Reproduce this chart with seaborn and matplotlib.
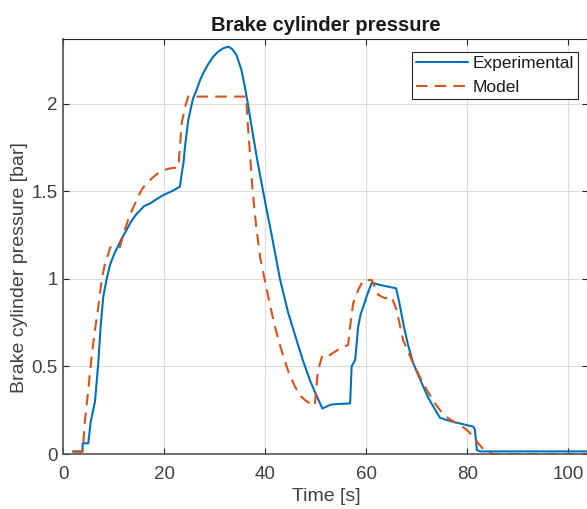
import numpy as np
import pandas as pd
import matplotlib
matplotlib.use("Agg")
import matplotlib.pyplot as plt
from matplotlib.ticker import FuncFormatter
import seaborn as sns

# Measured brake cylinder pressure
exp_time = [1.9, 3.8, 3.85, 4.95, 5.43, 6.28, 6.93, 7.4, 7.93, 8.6, 9.25, 10.2, 10.57,
            11.5, 12.55, 13.5, 14.5, 15.2, 16.0, 17.2, 18.5, 19.8, 21.5, 23.1, 23.45,
            23.8, 24.1, 24.75, 25.7, 26.4, 27.1, 27.7, 28.7, 29.7, 30.7, 31.7, 32.7,
            33.5, 34.3, 35.3, 36.0, 36.6, 37.4, 38.4, 39.5, 40.3, 41.2, 42.9, 44.5,
            46.2, 47.5, 48.85, 50.2, 51.3, 52.8, 53.5, 56.8, 57.1, 57.8, 58.0, 58.4,
            58.9, 59.4, 60.2, 61.1, 62.7, 65.9, 66.5, 67.5, 68.3, 69.3, 70.6, 71.3,
            72.3, 73.3, 74.0, 74.6, 75.8, 77.2, 79.2, 81.2, 81.5, 81.9, 82.5, 104.5]
exp_pressure = [0.015, 0.015, 0.061, 0.061, 0.184, 0.30, 0.52, 0.73, 0.90, 1.00, 1.08,
                1.15, 1.17, 1.225, 1.28, 1.33, 1.37, 1.39, 1.415, 1.43, 1.455, 1.478,
                1.50, 1.526, 1.60, 1.66, 1.754, 1.906, 2.03, 2.078, 2.135, 2.173,
                2.225, 2.268, 2.297, 2.316, 2.325, 2.31, 2.277, 2.19, 2.09, 1.99, 1.85,
                1.68, 1.51, 1.39, 1.26, 1.00, 0.81, 0.65, 0.53, 0.42, 0.33, 0.26, 0.28,
                0.284, 0.289, 0.50, 0.537, 0.60, 0.727, 0.80, 0.84, 0.91, 0.978, 0.965,
                0.946, 0.87, 0.72, 0.62, 0.518, 0.43, 0.384, 0.32, 0.27, 0.235, 0.207,
                0.195, 0.184, 0.17, 0.156, 0.14, 0.023, 0.015, 0.015]

# Simulated brake cylinder pressure
mod_time = [1.9, 3.8, 3.96, 4.3, 4.95, 5.6, 6.28, 6.93, 7.6, 8.26, 8.9, 9.3, 11.2, 12.2,
            13.0, 13.9, 14.7, 15.5, 16.3, 17.2, 18.2, 19.15, 20.1, 21.1, 22.8, 23.1,
            23.45, 24.1, 24.75, 36.2, 36.5, 37.0, 37.5, 38.2, 39.0, 39.9, 40.8, 41.6,
            42.6, 43.6, 44.7, 45.9, 47.0, 48.2, 49.8, 50.4, 51.3, 52.8, 55.1, 56.4,
            56.8, 57.4, 58.4, 59.4, 61.1, 62.4, 63.7, 65.0, 66.0, 67.3, 69.0, 70.6,
            72.0, 73.6, 75.3, 77.0, 78.6, 80.0, 81.2, 82.2, 83.2, 85.1, 104.5]
mod_pressure = [0.013, 0.013, 0.06, 0.194, 0.365, 0.555, 0.708, 0.84, 0.993, 1.088,
                1.14, 1.18, 1.18, 1.28, 1.35, 1.41, 1.46, 1.507, 1.54, 1.564, 1.59,
                1.61, 1.622, 1.63, 1.636, 1.754, 1.887, 1.98, 2.04, 2.04, 1.90, 1.70,
                1.50, 1.30, 1.12, 0.993, 0.87, 0.765, 0.65, 0.555, 0.46, 0.384, 0.33,
                0.30, 0.276, 0.47, 0.565, 0.565, 0.609, 0.622, 0.727, 0.86, 0.936,
                0.993, 0.993, 0.908, 0.889, 0.898, 0.822, 0.65, 0.537, 0.44, 0.365,
                0.29, 0.223, 0.19, 0.166, 0.135, 0.099, 0.06, 0.027, 0.0, 0.0]

x_ticks = [0, 20, 40, 60, 80, 100]
y_ticks = [0, 0.5, 1, 1.5, 2]

exp_df = pd.DataFrame({"time": exp_time, "pressure": exp_pressure})
mod_df = pd.DataFrame({"time": mod_time, "pressure": mod_pressure})

sns.set_theme(style="whitegrid")
plt.rcParams["font.family"] = ["Liberation Sans", "DejaVu Sans"]

dark = "#262626"
fig = plt.figure(figsize=(5.87, 5.09), dpi=100)
ax = fig.add_axes([0.1078, 0.108, 0.8947, 0.8148])

sns.lineplot(data=exp_df, x="time", y="pressure", ax=ax, color="#0072BD",
             linewidth=1.5, label="Experimental", sort=False)
sns.lineplot(data=mod_df, x="time", y="pressure", ax=ax, color="#D95319",
             linewidth=1.5, linestyle=(0, (5.5, 3.5)), label="Model", sort=False)

ax.set_xlim(0, 104)
ax.set_ylim(0, 2.367)
ax.set_xticks(x_ticks)
ax.set_yticks(y_ticks)
ax.yaxis.set_major_formatter(FuncFormatter(lambda v, p: f"{v:g}"))

ax.set_facecolor("white")
ax.grid(True, color="#dcdcdc", linewidth=0.8)
for side in ["left", "right", "top", "bottom"]:
    ax.spines[side].set_visible(True)
    ax.spines[side].set_color(dark)
    ax.spines[side].set_linewidth(0.8)
ax.spines["bottom"].set_color("#555555")
ax.spines["bottom"].set_linewidth(1.2)
ax.spines["left"].set_color("#555555")
ax.spines["left"].set_linewidth(1.2)

ax.tick_params(axis="both", which="major", direction="in", length=4, width=0.8,
               color=dark, labelsize=13.5, labelcolor="#404040",
               top=True, right=True, bottom=True, left=True)
ax.tick_params(axis="x", pad=8.5)
ax.tick_params(axis="y", pad=4)

ax.set_xlabel("Time [s]", fontsize=14, color="#404040")
ax.set_ylabel("Brake cylinder pressure [bar]", fontsize=14, color="#404040")
ax.xaxis.set_label_coords(0.5, -0.082)
ax.yaxis.set_label_coords(-0.068, 0.4485)
ax.set_title("Brake cylinder pressure", fontsize=14.5, fontweight="bold",
             color="#1a1a1a", pad=6)

leg = ax.legend(loc="upper right", bbox_to_anchor=(0.980, 0.9694), fontsize=12.5,
                frameon=True, fancybox=False, framealpha=1, edgecolor=dark,
                handlelength=3.0, handletextpad=0.3, borderpad=0.2,
                labelspacing=0.55, borderaxespad=0)
leg.get_frame().set_linewidth(0.8)
for t in leg.get_texts():
    t.set_color("#1a1a1a")

fig.savefig("out.png", dpi=100)
